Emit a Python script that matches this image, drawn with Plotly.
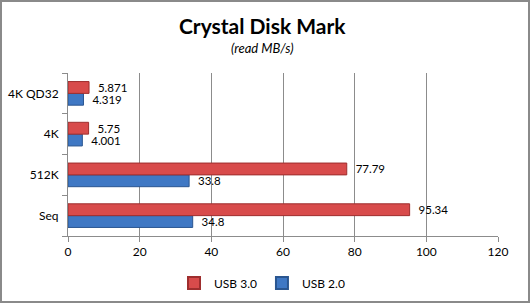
import plotly.graph_objects as go

categories = ["Seq", "512K", "4K", "4K QD32"]
usb3 = [95.34, 77.79, 5.75, 5.871]
usb2 = [34.8, 33.8, 4.001, 4.319]
usb3_labels = ["95.34", "77.79", "5.75", "5.871"]
usb2_labels = ["34.8", "33.8", "4.001", "4.319"]
x_ticks = [0, 20, 40, 60, 80, 100, 120]

W, H = 530, 303
L, R, T, B = 68, 32, 73, 67
font_family = "Lato, 'Open Sans', sans-serif"

fig = go.Figure()
fig.add_trace(go.Bar(
    y=categories, x=usb2, orientation="h", name="USB 2.0",
    marker=dict(color="#3F78C4", line=dict(color="#2A5690", width=1)),
    text=["  " + s for s in usb2_labels], textposition="outside", cliponaxis=False,
    constraintext="none", textfont=dict(size=11.5, color="black"), legendrank=2,
))
fig.add_trace(go.Bar(
    y=categories, x=usb3, orientation="h", name="USB 3.0",
    marker=dict(color="#D84B4B", line=dict(color="#9E2E2E", width=1)),
    text=["  " + s for s in usb3_labels], textposition="outside", cliponaxis=False,
    constraintext="none", textfont=dict(size=11.5, color="black"), legendrank=1,
))

pw, ph = W - L - R, H - T - B
cx = (262 - L) / pw
fig.add_shape(type="rect", xref="paper", yref="paper",
              x0=-(L - 1) / pw, x1=1 + (R - 1) / pw,
              y0=-(B - 1) / ph, y1=1 + (T - 1) / ph,
              line=dict(color="#8A8A8A", width=2))

fig.add_annotation(text="<b>Crystal Disk Mark</b>", xref="paper", yref="paper",
                   x=cx, y=1 + (T - 26) / ph, showarrow=False,
                   font=dict(size=21, color="black", family=font_family),
                   xanchor="center", yanchor="middle")
fig.add_annotation(text="<i>(read MB/s)</i>", xref="paper", yref="paper",
                   x=cx, y=1 + (T - 48) / ph, showarrow=False,
                   font=dict(size=13, color="black", family=font_family),
                   xanchor="center", yanchor="middle")

fig.update_layout(
    width=W, height=H,
    margin=dict(l=L, r=R, t=T, b=B, autoexpand=False),
    paper_bgcolor="white", plot_bgcolor="white",
    barmode="group", bargap=0.42, bargroupgap=0.0,
    font=dict(family=font_family, size=12, color="black"),
    showlegend=True,
    legend=dict(orientation="h", x=cx, xanchor="center", y=-(283 - 236) / ph,
                yanchor="middle", font=dict(size=12), traceorder="normal",
                itemwidth=30, itemsizing="constant"),
    xaxis=dict(range=[0, 120], tickvals=x_ticks, showgrid=True, gridcolor="#8C8C8C",
               gridwidth=1, showline=True, linecolor="#8C8C8C", ticks="outside",
               ticklen=5, tickcolor="#8C8C8C", zeroline=False, tickfont=dict(size=12),
               automargin=False),
    yaxis=dict(categoryorder="array", categoryarray=categories, showline=True,
               linecolor="#8C8C8C", ticks="outside", tickson="boundaries", ticklen=5,
               tickcolor="#8C8C8C", showgrid=False, tickfont=dict(size=12),
               ticklabelstandoff=6, automargin=False),
)

fig.write_html("out.html")
